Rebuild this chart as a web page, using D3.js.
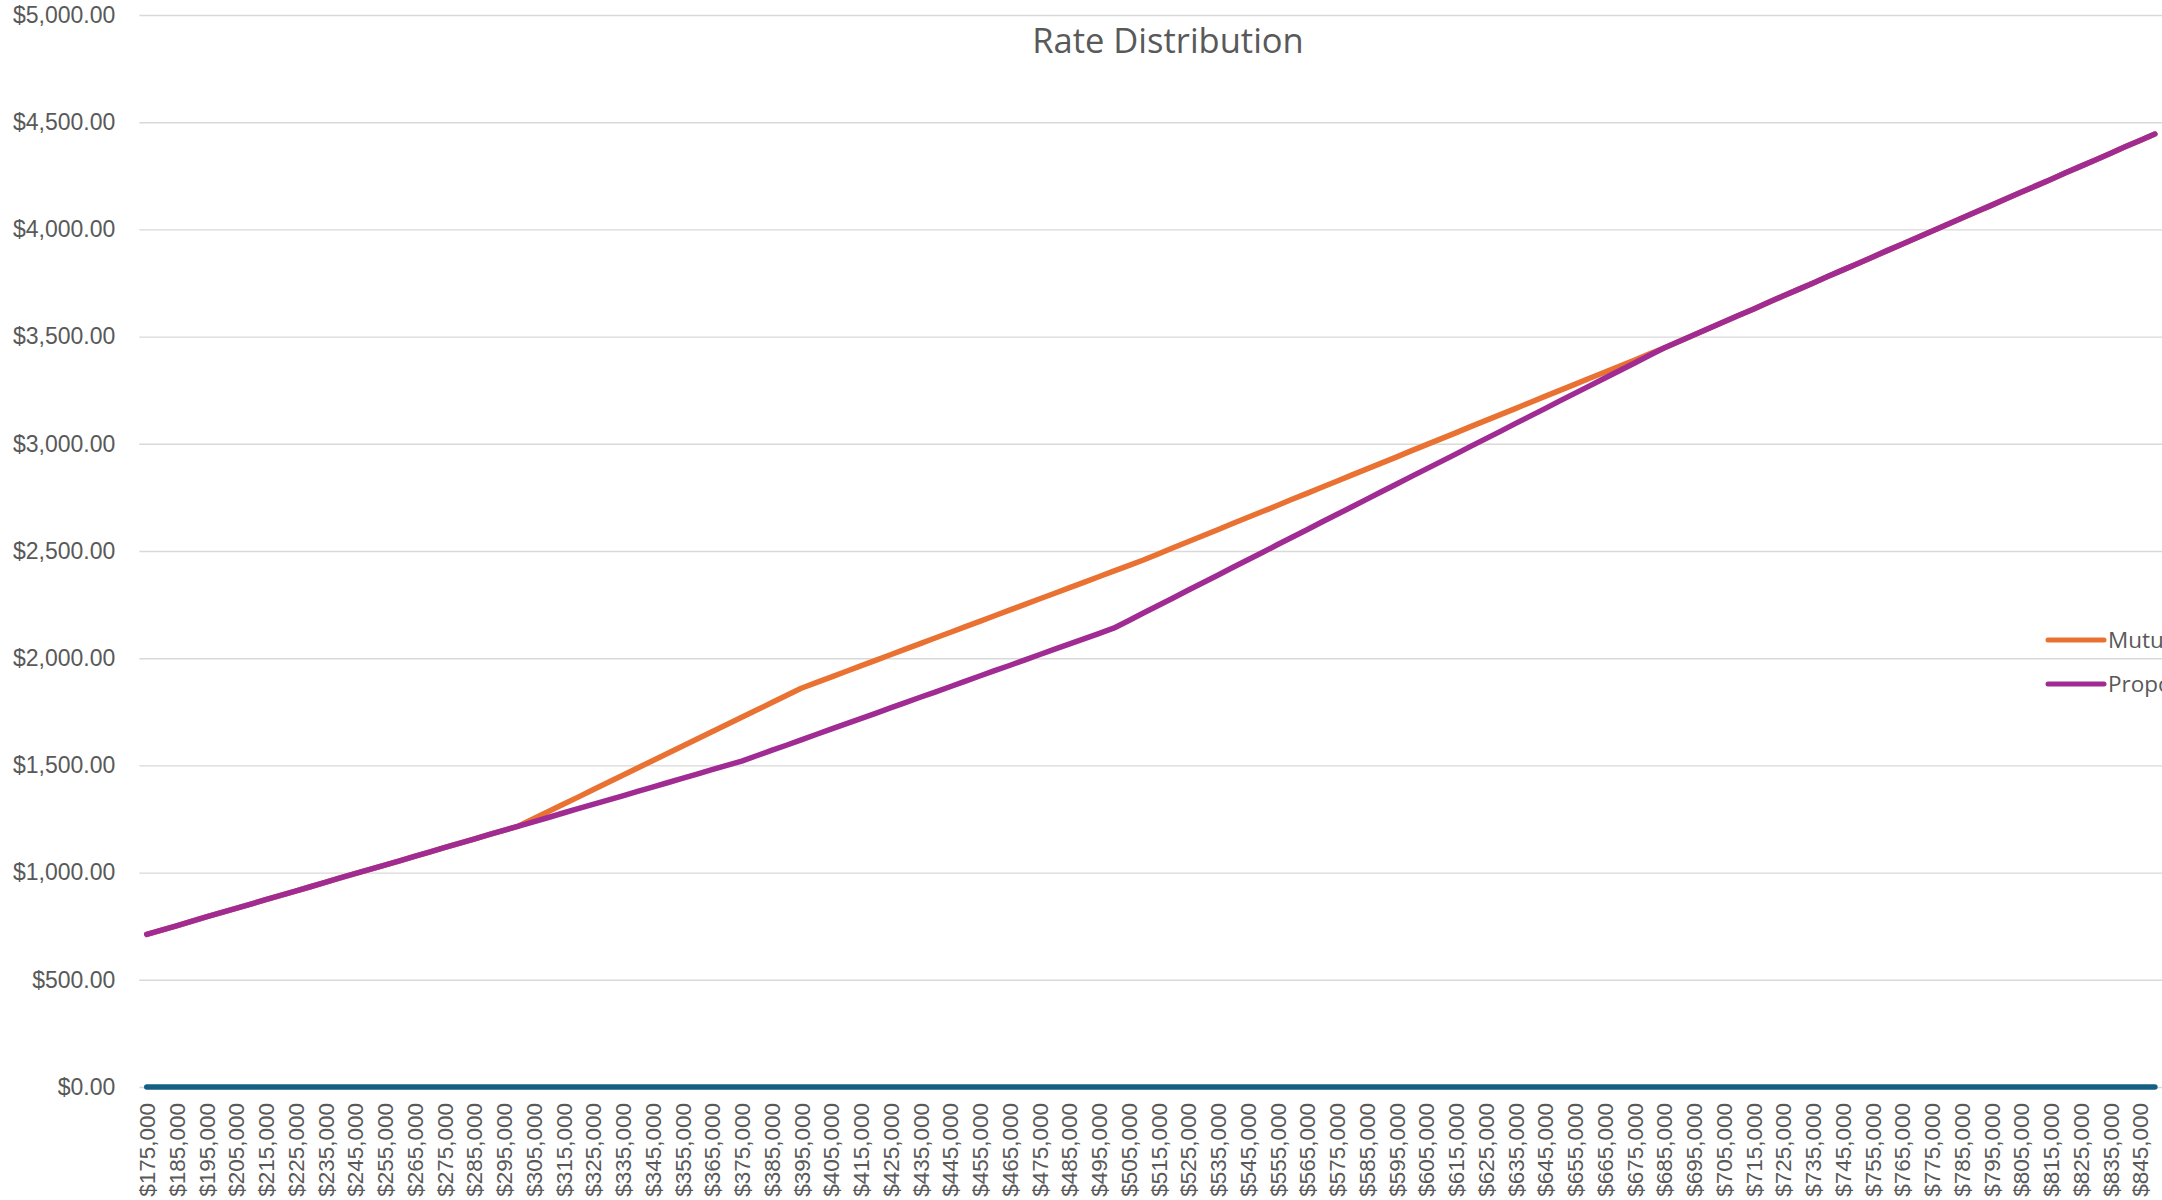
<!DOCTYPE html>
<html>
<head>
<meta charset="utf-8">
<script src="https://cdn.jsdelivr.net/npm/d3@7"></script>
<style>
  html, body { margin: 0; padding: 0; background: #fff; }
  svg { display: block; }
</style>
</head>
<body>
<svg id="chart" width="2162" height="1200"></svg>
<script>
// Home price categories (5,000 steps)
const prices = [
  175000,180000,185000,190000,195000,200000,205000,210000,215000,220000,
  225000,230000,235000,240000,245000,250000,255000,260000,265000,270000,
  275000,280000,285000,290000,295000,300000,305000,310000,315000,320000,
  325000,330000,335000,340000,345000,350000,355000,360000,365000,370000,
  375000,380000,385000,390000,395000,400000,405000,410000,415000,420000,
  425000,430000,435000,440000,445000,450000,455000,460000,465000,470000,
  475000,480000,485000,490000,495000,500000,505000,510000,515000,520000,
  525000,530000,535000,540000,545000,550000,555000,560000,565000,570000,
  575000,580000,585000,590000,595000,600000,605000,610000,615000,620000,
  625000,630000,635000,640000,645000,650000,655000,660000,665000,670000,
  675000,680000,685000,690000,695000,700000,705000,710000,715000,720000,
  725000,730000,735000,740000,745000,750000,755000,760000,765000,770000,
  775000,780000,785000,790000,795000,800000,805000,810000,815000,820000,
  825000,830000,835000,840000,845000,850000
];

// Baseline series (sits at zero)
const baseSeries = [
  0,0,0,0,0,0,0,0,0,0, 0,0,0,0,0,0,0,0,0,0,
  0,0,0,0,0,0,0,0,0,0, 0,0,0,0,0,0,0,0,0,0,
  0,0,0,0,0,0,0,0,0,0, 0,0,0,0,0,0,0,0,0,0,
  0,0,0,0,0,0,0,0,0,0, 0,0,0,0,0,0,0,0,0,0,
  0,0,0,0,0,0,0,0,0,0, 0,0,0,0,0,0,0,0,0,0,
  0,0,0,0,0,0,0,0,0,0, 0,0,0,0,0,0,0,0,0,0,
  0,0,0,0,0,0,0,0,0,0, 0,0,0,0,0,0
];

// Mutual rate
const mutualRate = [
  712,732,752,773,793,813,833,853,874,894,
  914,934,954,975,995,1015,1035,1055,1076,1096,
  1116,1136,1156,1177,1197,1217,1251,1285,1319,1352,
  1386,1420,1454,1488,1522,1555,1589,1623,1657,1691,
  1725,1758,1792,1826,1860,1886,1912,1938,1964,1990,
  2016,2042,2068,2094,2120,2146,2172,2198,2224,2250,
  2276,2302,2328,2354,2380,2406,2432,2458,2486,2515,
  2543,2571,2599,2628,2656,2684,2712,2741,2769,2797,
  2825,2854,2882,2910,2938,2967,2995,3023,3051,3080,
  3108,3136,3164,3193,3221,3249,3277,3306,3334,3362,
  3390,3419,3447,3477,3507,3538,3568,3598,3628,3659,
  3689,3719,3749,3780,3810,3840,3870,3901,3931,3961,
  3991,4022,4052,4082,4112,4143,4173,4203,4233,4264,
  4294,4324,4354,4385,4415,4445
];

// Proposed rate
const proposedRate = [
  712,732,752,773,793,813,833,853,874,894,
  914,934,954,975,995,1015,1035,1055,1076,1096,
  1116,1136,1156,1177,1197,1217,1237,1257,1278,1298,
  1318,1338,1358,1379,1399,1419,1439,1459,1480,1500,
  1520,1545,1570,1594,1619,1644,1669,1694,1718,1743,
  1768,1793,1818,1842,1867,1892,1917,1942,1966,1991,
  2016,2041,2066,2090,2115,2140,2175,2211,2246,2281,
  2317,2352,2387,2423,2458,2493,2529,2564,2599,2635,
  2670,2705,2741,2776,2811,2847,2882,2917,2952,2988,
  3023,3058,3094,3129,3164,3200,3235,3270,3306,3341,
  3376,3412,3447,3477,3507,3538,3568,3598,3628,3659,
  3689,3719,3749,3780,3810,3840,3870,3901,3931,3961,
  3991,4022,4052,4082,4112,4143,4173,4203,4233,4264,
  4294,4324,4354,4385,4415,4445
];

const yTicks = [0, 500, 1000, 1500, 2000, 2500, 3000, 3500, 4000, 4500, 5000];

const series = [
  { name: "Base", values: baseSeries, color: "#156082", legend: false },
  { name: "Mutual", values: mutualRate, color: "#E97132", legend: true },
  { name: "Proposed", values: proposedRate, color: "#A02B93", legend: true }
];

const svg = d3.select("#chart");
const textColor = "#595959";
const axisFont = "'Liberation Sans', Arial, sans-serif";
const titleFont = "'Open Sans', 'Noto Sans', sans-serif";

const plot = { left: 139.3, right: 2162.3, top: 15, bottom: 1087 };

const x = d3.scalePoint()
  .domain(prices)
  .range([plot.left, plot.right])
  .padding(0.5);

const y = d3.scaleLinear()
  .domain([0, 5000])
  .range([plot.bottom, plot.top]);

svg.append("rect").attr("width", 2162).attr("height", 1200).attr("fill", "#fff");

// Horizontal gridlines + value labels
const yAxis = d3.axisLeft(y)
  .tickValues(yTicks)
  .tickFormat(d3.format("$,.2f"))
  .tickSize(-(plot.right - plot.left))
  .tickPadding(24);

const gy = svg.append("g")
  .attr("transform", `translate(${plot.left},0)`)
  .call(yAxis);
gy.select(".domain").remove();
gy.selectAll(".tick line").attr("stroke", "#d9d9d9").attr("stroke-width", 1.4);
gy.selectAll(".tick text")
  .attr("fill", textColor)
  .style("font-family", axisFont)
  .style("font-size", "23px");

// Category axis: every other price is labelled, rotated upward
const xAxis = d3.axisBottom(x)
  .tickValues(prices.filter((d, i) => i % 2 === 0))
  .tickFormat(d3.format("$,"))
  .tickSize(0)
  .tickPadding(0);

const gx = svg.append("g")
  .attr("transform", `translate(0,${plot.bottom})`)
  .call(xAxis);
gx.select(".domain").remove();
gx.selectAll(".tick text")
  .attr("fill", textColor)
  .style("font-family", axisFont)
  .style("font-size", "22.5px")
  .attr("text-anchor", "end")
  .attr("transform", "rotate(-90)")
  .attr("x", -16)
  .attr("y", 0)
  .attr("dy", "0.35em");

// Series lines
const line = d3.line()
  .x((d, i) => x(prices[i]))
  .y(d => y(d));

svg.append("g")
  .selectAll("path")
  .data(series)
  .join("path")
  .attr("d", s => line(s.values))
  .attr("fill", "none")
  .attr("stroke", s => s.color)
  .attr("stroke-width", 5.5)
  .attr("stroke-linecap", "round")
  .attr("stroke-linejoin", "round");

// Title
svg.append("text")
  .attr("x", 1168)
  .attr("y", 53)
  .attr("text-anchor", "middle")
  .attr("fill", textColor)
  .style("font-family", titleFont)
  .style("font-size", "34.5px")
  .text("Rate Distribution");

// Legend
const legendItems = series.filter(s => s.legend);
const lg = svg.append("g")
  .selectAll("g")
  .data(legendItems)
  .join("g")
  .attr("transform", (d, i) => `translate(2048,${640 + i * 44})`);
lg.append("line")
  .attr("x1", 0).attr("x2", 56)
  .attr("stroke", d => d.color)
  .attr("stroke-width", 5)
  .attr("stroke-linecap", "round");
lg.append("text")
  .attr("x", 60)
  .attr("dy", "0.36em")
  .attr("fill", textColor)
  .style("font-family", titleFont)
  .style("font-size", "22.5px")
  .text(d => d.name);
</script>
</body>
</html>
